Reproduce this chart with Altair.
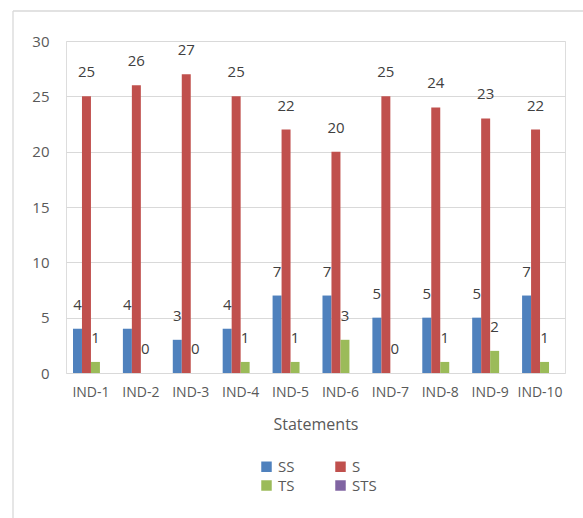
import altair as alt
import pandas as pd

categories = ["IND-1", "IND-2", "IND-3", "IND-4", "IND-5",
              "IND-6", "IND-7", "IND-8", "IND-9", "IND-10"]
series = ["SS", "S", "TS", "STS"]
colors = ["#4F81BD", "#C0504D", "#9BBB59", "#8064A2"]

ss_values = [4, 4, 3, 4, 7, 7, 5, 5, 5, 7]
s_values = [25, 26, 27, 25, 22, 20, 25, 24, 23, 22]
ts_values = [1, 0, 0, 1, 1, 3, 0, 1, 2, 1]
sts_values = [0, 0, 0, 0, 0, 0, 0, 0, 0, 0]
y_ticks = [0, 5, 10, 15, 20, 25, 30]

rows = []
for name, vals in zip(series, [ss_values, s_values, ts_values, sts_values]):
    for cat, v in zip(categories, vals):
        rows.append({"Statement": cat, "Series": name, "Value": v})
df = pd.DataFrame(rows)

FONT = "Open Sans"
TXT = "#595959"

x_enc = alt.X(
    "Statement:N", sort=categories,
    scale=alt.Scale(paddingInner=0.28, paddingOuter=0.14),
    axis=alt.Axis(title="Statements", labelAngle=0, domain=False, ticks=False,
                  labelPadding=12, labelFontSize=14, labelColor=TXT,
                  titleFontSize=16, titleFontWeight="normal", titleColor=TXT,
                  titlePadding=17, labelFont=FONT, titleFont=FONT, grid=False),
)
xoff_enc = alt.XOffset("Series:N", sort=series,
                       scale=alt.Scale(domain=series, paddingInner=0, paddingOuter=0))
y_enc = alt.Y(
    "Value:Q", scale=alt.Scale(domain=[0, 30]),
    axis=alt.Axis(title=None, values=y_ticks, domain=False, ticks=False,
                  labelPadding=17, labelFontSize=15, labelColor=TXT, labelFont=FONT,
                  grid=True, gridColor="#d9d9d9", gridWidth=1.2),
)

bars = alt.Chart(df).mark_bar().encode(
    x=x_enc, xOffset=xoff_enc, y=y_enc,
    color=alt.Color("Series:N", sort=series,
                    scale=alt.Scale(domain=series, range=colors),
                    legend=alt.Legend(title=None, orient="none", legendX=193, legendY=418,
                                      direction="horizontal",
                                      columns=2, symbolType="square", symbolSize=110,
                                      symbolStrokeWidth=0, labelFontSize=15,
                                      labelColor=TXT, labelFont=FONT,
                                      columnPadding=38, rowPadding=3, labelOffset=4)),
)

labels = alt.Chart(df).transform_filter(alt.datum.Series != "STS").mark_text(
    dy=-16, baseline="bottom", fontSize=15, color="#404040", font=FONT
).encode(x=x_enc, xOffset=xoff_enc, y=y_enc, text="Value:Q")

border_df = pd.DataFrame({"b": [0]})
top_border = alt.Chart(border_df).mark_rule(color="#d9d9d9", strokeWidth=1.3).encode(
    x=alt.value(-53), x2=alt.value(520), y=alt.value(-30))
left_border = alt.Chart(border_df).mark_rule(color="#d9d9d9", strokeWidth=1.3).encode(
    x=alt.value(-53), y=alt.value(-30), y2=alt.value(480))

chart = alt.layer(bars, labels, top_border, left_border).properties(
    width=499, height=332,
    autosize=alt.AutoSizeParams(type="none"),
    padding={"left": 66, "top": 41, "right": 18, "bottom": 145},
).configure_view(stroke=None).configure(font=FONT)

chart.save("out.html", embed_options={"renderer": "svg", "actions": False})
